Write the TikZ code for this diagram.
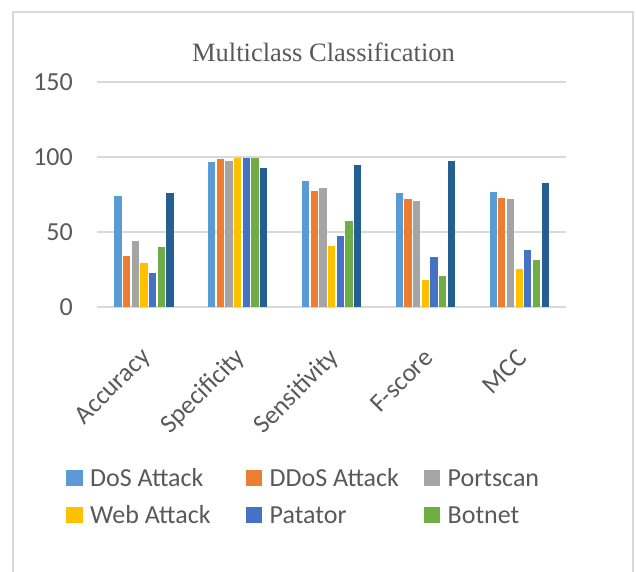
\documentclass[tikz,border=0pt]{standalone}
\usepackage{fontspec}
\setmainfont{Carlito}
\newfontfamily\titlefont{Liberation Serif}
\usepackage{tikz}
\usetikzlibrary{positioning}

\definecolor{dosc}{HTML}{5B9BD5}
\definecolor{ddosc}{HTML}{ED7D31}
\definecolor{portc}{HTML}{A5A5A5}
\definecolor{webc}{HTML}{FFC000}
\definecolor{patc}{HTML}{4472C4}
\definecolor{botc}{HTML}{70AD47}
\definecolor{darkc}{HTML}{255E91}
\definecolor{txtc}{HTML}{595959}
\definecolor{gridc}{HTML}{D9D9D9}

\tikzset{
	gridln/.style={draw=gridc, line width=2pt},
	ticklab/.style={text=txtc, font=\fontsize{26}{30}\selectfont, anchor=base east, inner sep=0pt},
	catlab/.style={text=txtc, font=\fontsize{26}{30}\selectfont, anchor=east, rotate=45, inner sep=1pt},
	legkey/.style={minimum size=16.5pt, inner sep=0pt},
	legtext/.style={text=txtc, font=\fontsize{26}{30}\selectfont, inner sep=0pt}
}

\begin{document}
\begin{tikzpicture}[x=1pt,y=1pt]
				\useasboundingbox (0,0) rectangle (636,571);
				\draw[draw=gridc, line width=2pt] (13,-20) -- (13,559) -- (633,559) -- (633,-20);
				\node[font=\titlefont\fontsize{26.5}{30}\selectfont, text=txtc, anchor=base] (title) at (323.5,509.3) {Multiclass Classification};
				\begin{scope}[shift={(0,264.3)}, y=1.5pt]
				\draw[gridln] (97,0) -- (566,0);
				\draw[gridln] (97,50) -- (566,50);
				\draw[gridln] (97,100) -- (566,100);
				\draw[gridln] (97,150) -- (566,150);
				\node[ticklab, yshift=-9pt] (t0) at (73,0) {0};
				\node[ticklab, yshift=-9pt] (t50) at (73,50) {50};
				\node[ticklab, yshift=-9pt] (t100) at (73,100) {100};
				\node[ticklab, yshift=-9pt] (t150) at (73,150) {150};
				% Accuracy
				\fill[dosc] (114.3,0) rectangle ++(7.3,74);
				\fill[ddosc] (122.9,0) rectangle ++(7.3,33.5);
				\fill[portc] (131.6,0) rectangle ++(7.3,43.5);
				\fill[webc] (140.3,0) rectangle ++(7.3,29);
				\fill[patc] (148.9,0) rectangle ++(7.3,22.3);
				\fill[botc] (157.6,0) rectangle ++(7.3,39.5);
				\fill[darkc] (166.3,0) rectangle ++(7.3,76);
				% Specificity
				\fill[dosc] (208.1,0) rectangle ++(7.3,96.6);
				\fill[ddosc] (216.7,0) rectangle ++(7.3,98.2);
				\fill[portc] (225.4,0) rectangle ++(7.3,97);
				\fill[webc] (234.1,0) rectangle ++(7.3,99.3);
				\fill[patc] (242.7,0) rectangle ++(7.3,99);
				\fill[botc] (251.4,0) rectangle ++(7.3,99.3);
				\fill[darkc] (260.1,0) rectangle ++(7.3,92.2);
				% Sensitivity
				\fill[dosc] (301.9,0) rectangle ++(7.3,83.7);
				\fill[ddosc] (310.5,0) rectangle ++(7.3,77);
				\fill[portc] (319.2,0) rectangle ++(7.3,78.8);
				\fill[webc] (327.9,0) rectangle ++(7.3,40.6);
				\fill[patc] (336.5,0) rectangle ++(7.3,46.9);
				\fill[botc] (345.2,0) rectangle ++(7.3,56.9);
				\fill[darkc] (353.9,0) rectangle ++(7.3,94.2);
				% F-score
				\fill[dosc] (395.7,0) rectangle ++(7.3,75.9);
				\fill[ddosc] (404.3,0) rectangle ++(7.3,72.1);
				\fill[portc] (413.0,0) rectangle ++(7.3,70.7);
				\fill[webc] (421.7,0) rectangle ++(7.3,17.9);
				\fill[patc] (430.3,0) rectangle ++(7.3,33);
				\fill[botc] (439.0,0) rectangle ++(7.3,20.5);
				\fill[darkc] (447.7,0) rectangle ++(7.3,97);
				% MCC
				\fill[dosc] (489.5,0) rectangle ++(7.3,76.3);
				\fill[ddosc] (498.1,0) rectangle ++(7.3,72.3);
				\fill[portc] (506.8,0) rectangle ++(7.3,72);
				\fill[webc] (515.5,0) rectangle ++(7.3,25);
				\fill[patc] (524.1,0) rectangle ++(7.3,38);
				\fill[botc] (532.8,0) rectangle ++(7.3,31.3);
				\fill[darkc] (541.5,0) rectangle ++(7.3,82.6);
				\end{scope}
				\node[catlab] (acc) at (147.9,218) {Accuracy};
				\node[catlab] (spec) at (241.7,218) {Specificity};
				\node[catlab] (sens) at (335.5,218) {Sensitivity};
				\node[catlab] (fsc) at (429.3,218) {F-score};
				\node[catlab] (mcc) at (523.1,218) {MCC};
				% legend
				\node[legkey, fill=dosc] (kdos) at (74.5,93) {};
				\node[legtext, right=7pt of kdos] (ldos) {DoS Attack};
				\node[legkey, fill=ddosc] (kddos) at (254,93) {};
				\node[legtext, right=7pt of kddos] (lddos) {DDoS Attack};
				\node[legkey, fill=portc] (kport) at (432,93) {};
				\node[legtext, right=7pt of kport] (lport) {Portscan};
				\node[legkey, fill=webc] (kweb) at (74.5,56) {};
				\node[legtext, right=7pt of kweb] (lweb) {Web Attack};
				\node[legkey, fill=patc] (kpat) at (254,56) {};
				\node[legtext, right=7pt of kpat] (lpat) {Patator};
				\node[legkey, fill=botc] (kbot) at (432,56) {};
				\node[legtext, right=7pt of kbot] (lbot) {Botnet};
				\end{tikzpicture}
\end{document}
